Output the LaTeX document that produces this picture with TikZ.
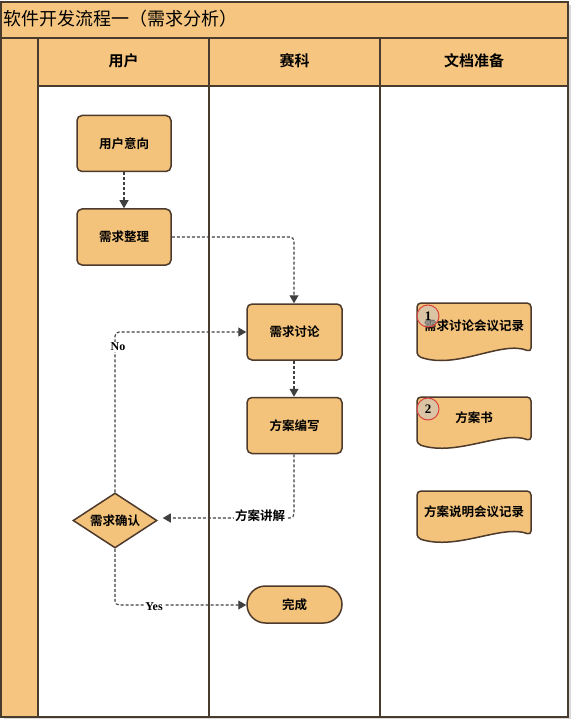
\documentclass[tikz,border=0pt]{standalone}
\usepackage{fontspec}
\setmainfont{Noto Sans CJK SC}[BoldFont={Noto Sans CJK SC Bold}]
\newfontfamily\latinb{Liberation Serif}
\usetikzlibrary{arrows.meta,shapes.geometric,shapes.misc}
\definecolor{band}{HTML}{F6C680}
\definecolor{boxfill}{HTML}{F3C27B}
\definecolor{frame}{HTML}{4A3B2F}
\definecolor{edge}{HTML}{4D3A2A}
\definecolor{conn}{HTML}{3F3F3F}
\definecolor{ringred}{HTML}{D9433F}
\tikzset{
  procbox/.style={rectangle,rounded corners=5pt,draw=edge,line width=1.5pt,fill=boxfill,
    minimum width=94pt,minimum height=56pt,inner sep=0pt,font=\fontsize{12.5}{14}\selectfont\bfseries},
  decbox/.style={diamond,draw=edge,line width=1.5pt,fill=boxfill,aspect=1.53,
    minimum width=84pt,minimum height=55pt,inner sep=0pt,font=\fontsize{12.5}{14}\selectfont\bfseries},
  endbox/.style={rounded rectangle,draw=edge,line width=1.5pt,fill=boxfill,
    minimum width=95pt,minimum height=37pt,inner sep=0pt,font=\fontsize{12.5}{14}\selectfont\bfseries},
  headtext/.style={font=\fontsize{15}{17}\selectfont\bfseries,inner sep=0pt},
  doctext/.style={font=\fontsize{12.5}{14}\selectfont\bfseries,inner sep=0pt},
  docshape/.style={draw=edge,line width=1.5pt,fill=boxfill,rounded corners=4pt},
  flow/.style={draw=conn,line width=1.1pt,dash pattern=on 3pt off 2pt,rounded corners=4pt,
    -{Triangle[length=8pt,width=9pt]}},
  flowlabel/.style={fill=white,inner sep=1pt,font=\fontsize{12.5}{14}\selectfont\bfseries},
  yesno/.style={fill=white,inner sep=1pt,font=\latinb\fontsize{12}{14}\selectfont\bfseries},
  ring/.style={circle,draw=ringred,line width=1pt,fill=gray!45,fill opacity=0.55,text opacity=1,
    minimum size=22pt,inner sep=0pt,font=\latinb\fontsize{13}{14}\selectfont\bfseries},
  laneline/.style={draw=frame,line width=2pt}
}
\begin{document}
\begin{tikzpicture}[x=1pt,y=-1pt]
\useasboundingbox (0,0) rectangle (571,719);
\fill[white] (0,0) rectangle (571,719);
% shadow
\fill[gray!30] (4,5) rectangle (571,719);
% body
\fill[white] (1,2) rectangle (568,717);
% title band
\fill[band] (1,2) rectangle (568,38);
% header row
\fill[band] (38,38) rectangle (568,86);
% left strip
\fill[band] (1,38) rectangle (38,717);
% lines
\draw[laneline] (1,2) rectangle (568,717);
\draw[draw=frame,line width=2.6pt] (1,38) -- (568,38);
\draw[laneline] (38,38) -- (38,717);
\draw[laneline] (209,38) -- (209,717);
\draw[laneline] (380,38) -- (380,717);
\draw[laneline] (38,86) -- (568,86);

\node[anchor=west,inner sep=0pt,font=\fontsize{18}{20}\selectfont] (title) at (3,19) {软件开发流程一（需求分析）};
\node[headtext] (h1) at (123.5,61) {用户};
\node[headtext] (h2) at (294.5,61) {赛科};
\node[headtext] (h3) at (474,61) {文档准备};

% process nodes
\node[procbox] (yx) at (124,143.5) {用户意向};
\node[procbox] (zl) at (124,237) {需求整理};
\node[procbox,minimum width=95pt] (tl) at (294.5,332) {需求讨论};
\node[procbox,minimum width=95pt] (bx) at (294.5,425.5) {方案编写};
\node[decbox] (qr) at (115,520.5) {需求确认};
\node[endbox] (wc) at (294.5,604.5) {完成};

% documents
\begin{scope}[shift={(417,303)}]
\draw[docshape] (0,53) -- (0,0) -- (114,0) -- (114,49) .. controls (85,37) and (40,67) .. (0,53) -- cycle;
\end{scope}
\begin{scope}[shift={(417,397)}]
\draw[docshape] (0,47) -- (0,0) -- (114,0) -- (114,44) .. controls (85,33) and (40,60) .. (0,47) -- cycle;
\end{scope}
\begin{scope}[shift={(417,491)}]
\draw[docshape] (0,47) -- (0,0) -- (114,0) -- (114,44) .. controls (85,33) and (40,60) .. (0,47) -- cycle;
\end{scope}
\node[doctext] (d1) at (474,326) {需求讨论会议记录};
\node[doctext] (d2) at (474,418) {方案书};
\node[doctext] (d3) at (474,512) {方案说明会议记录};
\node[ring] (r1) at (428,316) {1};
\node[ring] (r2) at (428,409) {2};

% connectors
\coordinate (c1) at (294,237);
\coordinate (c2) at (294,518);
\coordinate (c3) at (115,332);
\coordinate (c4) at (115,605);
\draw[flow] (yx.south) -- (zl.north);
\draw[flow] (zl.east) -- (c1) -- (tl.north -| c1);
\draw[flow] (tl.south -| c1) -- (bx.north -| c1);
\draw[flow, shorten >=5pt] (bx.south -| c1) -- (c2) -- (qr.east |- c2);
\draw[flow] (qr.north) -- (c3) -- (tl.west);
\draw[flow] (qr.south) -- (c4) -- (wc.west |- c4);
\node[flowlabel] (l1) at (260,516) {方案讲解};
\node[yesno] (l2) at (118,347) {No};
\node[yesno] (l3) at (154,607) {Yes};
\end{tikzpicture}
\end{document}
